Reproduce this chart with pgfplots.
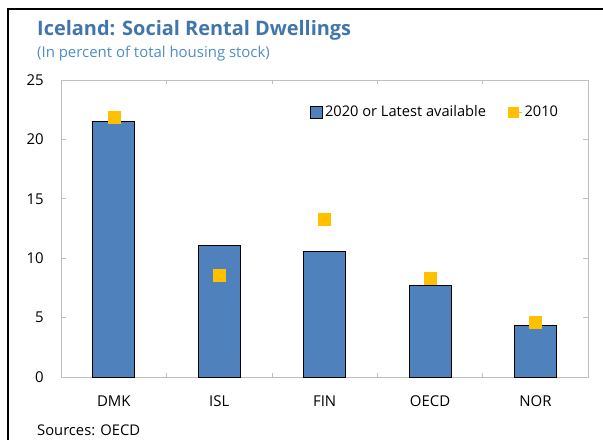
\documentclass[border=0pt]{standalone}
\usepackage{pgfplots}
\pgfplotsset{compat=1.18}
\usepackage{fontspec}
\setmainfont{Open Sans}
\definecolor{barblue}{RGB}{79,129,189}
\definecolor{gold}{RGB}{255,192,0}
\definecolor{titleblue}{RGB}{64,118,172}
\definecolor{subblue}{RGB}{78,140,200}
\definecolor{axgray}{RGB}{191,191,191}

\begin{document}
\begin{tikzpicture}[x=1bp,y=1bp]
\path[use as bounding box] (0,0) rectangle (603,440);
\draw[black, line width=1.3bp] (8,-20) -- (8,431) -- (640,431);
\node[anchor=base west, inner sep=0, font=\fontsize{20}{24}\selectfont\bfseries, text=titleblue] at (37,404) {Iceland: Social Rental Dwellings};
\node[anchor=base west, inner sep=0, font=\fontsize{15}{17}\selectfont, text=subblue] at (37,382) {(In percent of total housing stock)};
\node[anchor=base west, inner sep=0, font=\fontsize{14.8}{17}\selectfont] at (37,4) {Sources: OECD};
\begin{axis}[
  at={(58,53)}, anchor=south west,
  width=527bp, height=297bp, scale only axis,
  xmin=-0.5, xmax=4.5, ymin=0, ymax=25,
  ytick={0,5,...,25},
  xtick={0,1,2,3,4},
  xticklabels={DMK,ISL,FIN,OECD,NOR},
  minor xtick={0.5,1.5,2.5,3.5},
  major x tick style={draw=none},
  minor tick length=4bp,
  major tick length=5bp,
  tick align=inside,
  axis line style={axgray, line width=0.8bp},
  every tick/.style={axgray, line width=0.8bp},
  tick label style={font=\fontsize{15}{17}\selectfont},
  /pgf/number format/assume math mode=true,
  xticklabel style={yshift=-15bp},
  yticklabel style={xshift=-14bp},
  legend columns=2,
  legend style={at={(rel axis cs:0.947,0.892)}, anchor=east, draw=none, fill=none,
    font=\fontsize{14.7}{17}\selectfont, inner sep=0pt,
    /tikz/every even column/.append style={column sep=20bp}},
  legend cell align=left,
]
\addplot[ybar, bar width=42bp, fill=barblue, draw=black, line width=1bp,
  legend image code/.code={\draw[fill=barblue, draw=black, line width=0.9bp] (0bp,-6bp) rectangle (12bp,6bp);}]
  coordinates {(0,21.5) (1,11.1) (2,10.6) (3,7.7) (4,4.3)};
\addlegendentry{2020 or Latest available}
\addplot[only marks, mark=square*, mark size=6bp, color=gold,
  legend image code/.code={\fill[gold] (0bp,-5bp) rectangle (10bp,5bp); \path (0bp,0bp) -- (14bp,0bp);}]
  coordinates {(0,21.9) (1,8.6) (2,13.3) (3,8.3) (4,4.6)};
\addlegendentry{2010}
\end{axis}
\end{tikzpicture}
\end{document}
